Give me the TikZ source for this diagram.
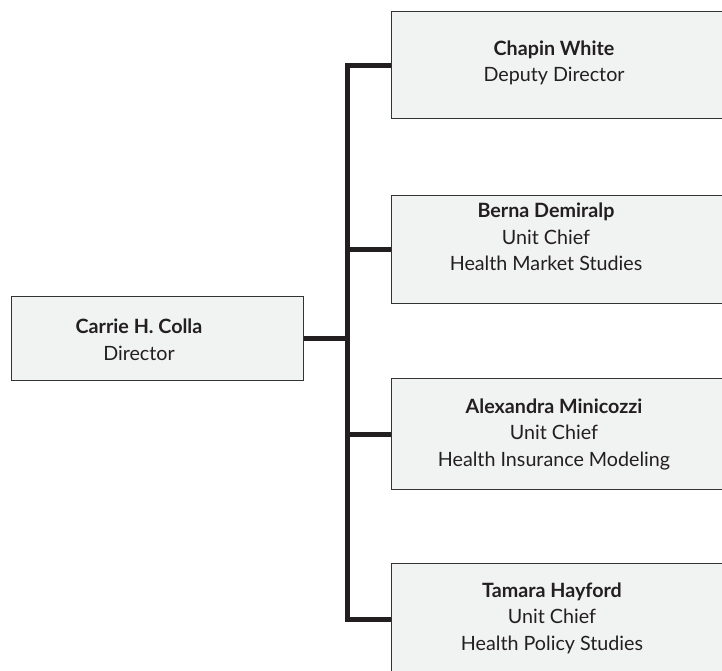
\documentclass[tikz,border=0pt]{standalone}
\usepackage{fontspec}
\setmainfont{Lato}
\definecolor{boxfill}{HTML}{F1F2F2}
\definecolor{boxline}{HTML}{333333}
\definecolor{ink}{HTML}{231F20}
\begin{document}
\begin{tikzpicture}[x=1pt,y=-1pt,
  box/.style={draw=boxline, line width=1.2pt, fill=boxfill, anchor=north west, inner sep=0pt},
  txt/.style={align=center, text=ink, font=\fontsize{19.7}{26.5}\selectfont},
  conn/.style={draw=ink, line width=5pt, line join=miter}]
\useasboundingbox (0,0) rectangle (722,671);
\clip (0,0) rectangle (722,671);
% boxes
\node[box, minimum width=292, minimum height=84] (dir) at (11,296) {};
\node[box, minimum width=360, minimum height=107] (b1) at (391,11) {};
\node[box, minimum width=360, minimum height=108] (b2) at (391,195) {};
\node[box, minimum width=360, minimum height=111] (b3) at (391,378) {};
\node[box, minimum width=360, minimum height=112] (b4) at (391,563) {};
% texts
\node[txt] (tdir) at (139,340) {\textbf{Carrie H. Colla}\\Director};
\node[txt] (t1) at (554,63) {\textbf{Chapin White}\\Deputy Director};
\node[txt] (t2) at (546,237) {\textbf{Berna Demiralp}\\Unit Chief\\Health Market Studies};
\node[txt] (t3) at (554,434) {\textbf{Alexandra Minicozzi}\\Unit Chief\\Health Insurance Modeling};
\node[txt] (t4) at (552,618) {\textbf{Tamara Hayford}\\Unit Chief\\Health Policy Studies};
% connectors
\coordinate (bus) at (347,0);
\draw[conn] (b1.west) -| (bus |- b4.west) -- (b4.west);
\draw[conn] (dir.east) -- (dir.east -| bus);
\draw[conn] (b2.west -| bus) -- (b2.west);
\draw[conn] (b3.west -| bus) -- (b3.west);
\end{tikzpicture}
\end{document}
